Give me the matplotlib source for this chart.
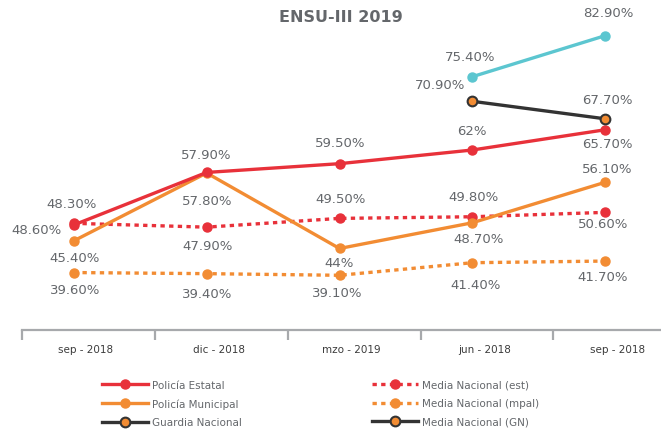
import numpy as np
import matplotlib
matplotlib.use("Agg")
import matplotlib.pyplot as plt
from matplotlib.lines import Line2D

# datos
periodos = ["sep - 2018", "dic - 2018", "mzo - 2019", "jun - 2018", "sep - 2018"]
policia_estatal = [48.3, 57.9, 59.5, 62.0, 65.7]
policia_municipal = [45.4, 57.8, 44.0, 48.7, 56.1]
media_est = [48.6, 47.9, 49.5, 49.8, 50.6]
media_mpal = [39.6, 39.4, 39.1, 41.4, 41.7]
guardia_cyan = [np.nan, np.nan, np.nan, 75.4, 82.9]
media_gn = [np.nan, np.nan, np.nan, 70.9, 67.7]

ROJO = "#e8313a"
NARANJA = "#f28c33"
NEGRO = "#333333"
CIAN = "#5cc6d0"
GRIS = "#64676b"
EJE = "#a7a9ac"

x = np.arange(len(periodos))

fig = plt.figure(figsize=(6.61, 4.31), dpi=100)
ax = fig.add_axes([22 / 661, 100 / 431, 1 - 22 / 661, 1 - 100 / 431])

lw = 2.4
ms = 6.5
ax.plot(x, media_mpal, color=NARANJA, lw=lw, ls=(0, (1.3, 1.3)), marker="o", ms=ms, zorder=2)
ax.plot(x, media_est, color=ROJO, lw=lw, ls=(0, (1.3, 1.3)), marker="o", ms=ms, zorder=2)
ax.plot(x, policia_municipal, color=NARANJA, lw=lw, marker="o", ms=ms, zorder=3)
ax.plot(x, policia_estatal, color=ROJO, lw=lw, marker="o", ms=ms, zorder=3)
ax.plot(x, guardia_cyan, color=CIAN, lw=lw, marker="o", ms=ms, zorder=3)
ax.plot(x, media_gn, color=NEGRO, lw=lw, marker="o", ms=7, mfc=NARANJA, mec=NEGRO, mew=1.5, zorder=3)

# etiquetas (desplazamientos en pixeles)
def etiquetas(vals, offs):
    for i, (v, o) in enumerate(zip(vals, offs)):
        if np.isnan(v):
            continue
        txt = f"{v:.2f}%" if v != int(v) else f"{int(v)}%"
        ax.annotate(txt, (x[i], v), xytext=o, textcoords="offset pixels",
                    ha="center", va="center", fontsize=9.5, color=GRIS, zorder=5)

etiquetas(policia_estatal, [(-2, 21), (0, 18), (1, 21), (0, 20), (2, -14)])
etiquetas(policia_municipal, [(1, -17), (1, -28), (0, -14), (6, -16), (2, 14)])
etiquetas(media_est, [(-37, -6), (1, -18), (1, 20), (1, 20), (-2, -11)])
etiquetas(media_mpal, [(1, -17), (1, -20), (-2, -17), (3, -22), (-3, -15)])
etiquetas(media_gn, [0, 0, 0, (-32, 17), (2, 19)])
etiquetas(guardia_cyan, [0, 0, 0, (-2, 20), (3, 23)])

ax.set_xlim(-0.375, 4.42)
ax.set_ylim(29.1, 89.6)
ax.set_yticks([])
for s in ["left", "right", "top"]:
    ax.spines[s].set_visible(False)
ax.spines["bottom"].set_color(EJE)
ax.spines["bottom"].set_linewidth(1.6)

ax.set_xticks(x + 0.09)
ax.set_xticklabels(periodos, fontsize=7.5, color="#3c3c3c")
ax.tick_params(axis="x", which="major", length=0, pad=10)
ax.set_xticks(x - 0.39, minor=True)
ax.tick_params(axis="x", which="minor", length=7, width=1.6, color=EJE)

fig.text(341 / 661, 1 - 18 / 431, "ENSU-III 2019", ha="center", va="center",
         fontsize=11.5, fontweight="bold", color=GRIS)

# leyenda
h_izq = [
    Line2D([], [], color=ROJO, lw=lw, marker="o", ms=ms),
    Line2D([], [], color=NARANJA, lw=lw, marker="o", ms=ms),
    Line2D([], [], color=NEGRO, lw=lw, marker="o", ms=7, mfc=NARANJA, mec=NEGRO, mew=1.5),
]
h_der = [
    Line2D([], [], color=ROJO, lw=lw, ls=(0, (1.3, 1.3)), marker="o", ms=ms),
    Line2D([], [], color=NARANJA, lw=lw, ls=(0, (1.3, 1.3)), marker="o", ms=ms),
    Line2D([], [], color=NEGRO, lw=lw, marker="o", ms=7, mfc=NARANJA, mec=NEGRO, mew=1.5),
]
opts = dict(loc="upper left", frameon=False, fontsize=7.5, borderpad=0, borderaxespad=0,
            handlelength=4.4, handletextpad=0.4, labelspacing=0.8, labelcolor=GRIS)
fig.legend(h_izq, ["Policía Estatal", "Policía Municipal", "Guardia Nacional"],
           bbox_to_anchor=(102 / 661, 1 - 381 / 431), **opts)
fig.legend(h_der, ["Media Nacional (est)", "Media Nacional (mpal)", "Media Nacional (GN)"],
           bbox_to_anchor=(372 / 661, 1 - 381 / 431), **opts)

fig.savefig("out.png", dpi=100)
